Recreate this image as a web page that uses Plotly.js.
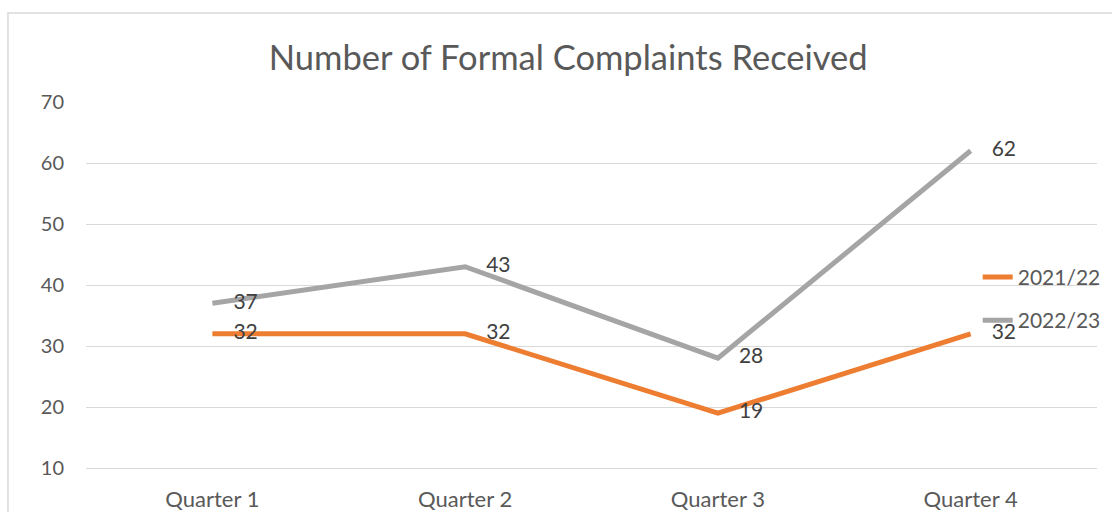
<!DOCTYPE html>
<html>
<head>
<meta charset="utf-8">
<script src="https://cdn.plot.ly/plotly-3.0.1.min.js"></script>
<style>html,body{margin:0;padding:0;background:#fff;}#chart{width:1112px;height:512px;}</style>
</head>
<body>
<div id="chart"></div>
<script>
const categories = ["Quarter 1", "Quarter 2", "Quarter 3", "Quarter 4"];
const series2021 = [32, 32, 19, 32];
const series2022 = [37, 43, 28, 62];
const seriesNames = ["2021/22", "2022/23"];
const yTicks = [10, 20, 30, 40, 50, 60, 70];

const FONT = "Lato, 'Open Sans', sans-serif";
const TXT = "#595959";

function trace(name, vals, color, grp) {
  return {
    type: "scatter",
    mode: "lines+markers+text",
    name: name,
    legendgroup: grp,
    x: categories,
    y: vals,
    text: vals.map(String),
    textposition: "middle right",
    textfont: {family: FONT, size: 21, color: "#404040"},
    line: {color: color, width: 5},
    marker: {size: 32, color: "rgba(0,0,0,0)"},
    cliponaxis: false,
    hoverinfo: "x+y+name"
  };
}

const data = [
  trace(seriesNames[0], series2021, "#ED7D31", "a"),
  trace(seriesNames[1], series2022, "#A5A5A5", "b")
];

const layout = {
  width: 1112, height: 512,
  margin: {l: 86, r: 15, t: 102, b: 44, autoexpand: false},
  paper_bgcolor: "#fff", plot_bgcolor: "#fff",
  font: {family: FONT, color: TXT, size: 20},
  title: {
    text: "Number of Formal Complaints Received",
    font: {family: FONT, size: 34.5, color: TXT},
    xref: "container", x: 0.511, xanchor: "center",
    yref: "container", y: 0.887, yanchor: "middle"
  },
  xaxis: {
    type: "category",
    range: [-0.5, 3.5],
    showgrid: false,
    showline: true, linecolor: "#d9d9d9", linewidth: 1,
    ticks: "", ticklabelstandoff: 12,
    tickfont: {family: FONT, size: 22, color: TXT},
    fixedrange: true
  },
  yaxis: {
    range: [10, 70],
    tickvals: yTicks,
    showgrid: true, gridcolor: "#d9d9d9", gridwidth: 1,
    zeroline: false, showline: false,
    ticks: "", ticklabelstandoff: 21,
    tickfont: {family: FONT, size: 20, color: TXT},
    fixedrange: true
  },
  legend: {
    x: 0.882, xanchor: "left",
    y: 0.577, yanchor: "top",
    traceorder: "grouped",
    tracegroupgap: 13,
    bgcolor: "rgba(0,0,0,0)",
    font: {family: FONT, size: 21, color: TXT}
  },
  showlegend: true,
  shapes: [{
    type: "rect", xref: "paper", yref: "paper",
    x0: -0.0772, x1: 1.2, y0: -0.5, y1: 1.243,
    line: {color: "#d9d9d9", width: 1.5},
    layer: "below"
  }]
};

Plotly.newPlot("chart", data, layout, {displayModeBar: false, staticPlot: true});
</script>
</body>
</html>
